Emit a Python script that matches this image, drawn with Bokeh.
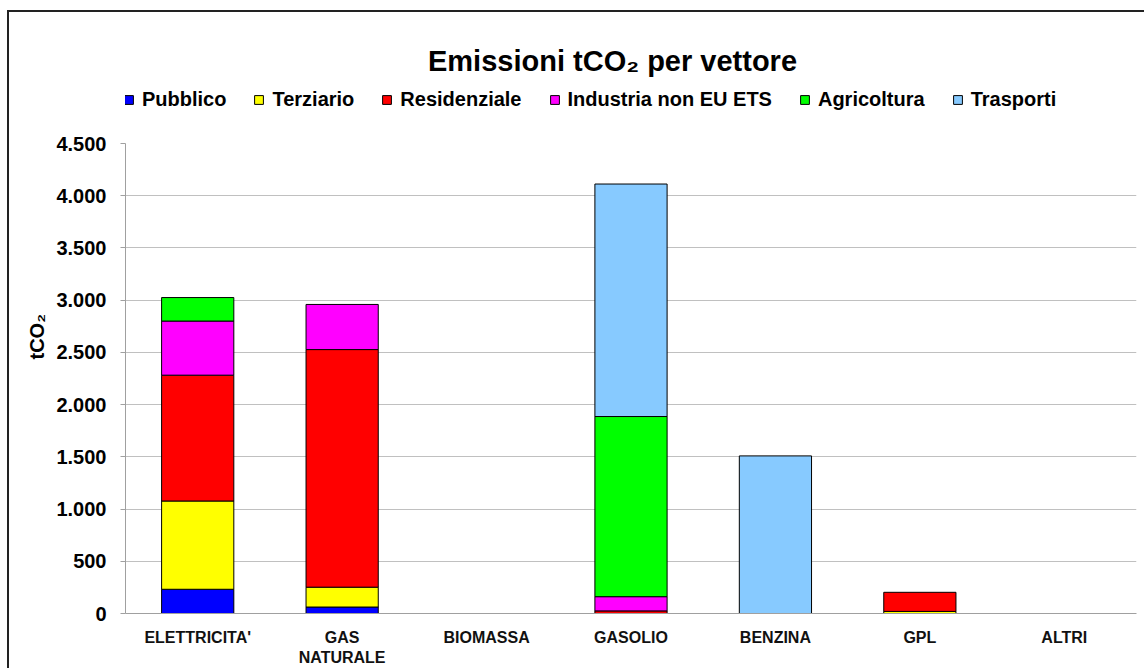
from bokeh.plotting import figure
from bokeh.layouts import column
from bokeh.models import FactorRange, Range1d, FixedTicker, Legend, LegendItem, Label, Title
from bokeh.embed import file_html
from bokeh.resources import INLINE

categories = ["ELETTRICITA'", "GAS\nNATURALE", "BIOMASSA", "GASOLIO", "BENZINA", "GPL", "ALTRI"]

series_names = ["Pubblico", "Terziario", "Residenziale", "Industria non EU ETS", "Agricoltura", "Trasporti"]
series_colors = ["#0000FF", "#FFFF00", "#FF0000", "#FF00FF", "#00FF00", "#87CAFF"]

pubblico = [232, 62, 0, 0, 0, 0, 0]
terziario = [845, 190, 0, 0, 0, 20, 0]
residenziale = [1205, 2275, 0, 25, 0, 183, 0]
industria = [518, 432, 0, 136, 0, 0, 0]
agricoltura = [225, 0, 0, 1725, 0, 0, 0]
trasporti = [0, 0, 0, 2226, 1509, 0, 0]

y_ticks = [0, 500, 1000, 1500, 2000, 2500, 3000, 3500, 4000, 4500]
y_tick_labels = ["0", "500", "1.000", "1.500", "2.000", "2.500", "3.000", "3.500", "4.000", "4.500"]

chart_title = "Emissioni tCO\u2082 per vettore"
y_title = "tCO\u2082"

FONT = "Liberation Sans"
W = 1135
HEADER_H = 119
NAN = float("nan")

# ---- header: title + legend ----
header = figure(width=W, height=HEADER_H, x_range=Range1d(0, 1), y_range=Range1d(0, 1),
                output_backend="svg", toolbar_location=None, title=None,
                min_border=0, min_border_left=0, min_border_right=0,
                min_border_top=0, min_border_bottom=0)
header.axis.visible = False
header.grid.visible = False
header.outline_line_color = None

items = []
for name, color in zip(series_names, series_colors):
    r = header.vbar(x=[0.5], bottom=[NAN], top=[NAN], width=0.5, fill_color=color,
                    line_color="black", line_width=1)
    items.append(LegendItem(label=name, renderers=[r]))

legend = Legend(items=items, orientation="horizontal", location=(-2, 20),
                label_text_font=FONT, label_text_font_size="20px",
                label_text_font_style="bold", label_text_color="black",
                glyph_width=11, glyph_height=11, label_standoff=8, spacing=27,
                padding=0, margin=0, border_line_color=None, background_fill_alpha=0)
header.add_layout(legend, "center")

header.add_layout(Label(x=487, y=71, x_units="screen", y_units="screen",
                        text=chart_title, text_align="center",
                        text_baseline="alphabetic", text_font=FONT,
                        text_font_size="29px", text_font_style="bold", text_color="black"))

# ---- main chart ----
p = figure(
    x_range=FactorRange(*categories),
    y_range=Range1d(0, 4500),
    width=W, height=537, title=None,
    output_backend="svg", toolbar_location=None,
    min_border_left=116, min_border_right=8, min_border_top=12, min_border_bottom=46,
)

all_series = [pubblico, terziario, residenziale, industria, agricoltura, trasporti]
bottoms = [0] * len(categories)
for name, color, vals in zip(series_names, series_colors, all_series):
    xs, bs, ts = [], [], []
    for i, v in enumerate(vals):
        if v > 0:
            xs.append(categories[i])
            bs.append(bottoms[i])
            ts.append(bottoms[i] + v)
        bottoms[i] += v
    p.vbar(x=xs, bottom=bs, top=ts, width=0.5, fill_color=color,
           line_color="black", line_width=1)

p.outline_line_color = None
p.xgrid.grid_line_color = None
p.ygrid.grid_line_color = "#C0C0C0"
p.ygrid.ticker = FixedTicker(ticks=y_ticks)

p.yaxis.ticker = FixedTicker(ticks=y_ticks)
p.yaxis.major_label_overrides = {t: l for t, l in zip(y_ticks, y_tick_labels)}
p.yaxis.minor_tick_line_color = None
p.yaxis.major_tick_in = 0
p.yaxis.major_tick_out = 5
p.yaxis.major_tick_line_color = "#A0A0A0"
p.yaxis.axis_line_color = "#A0A0A0"
p.yaxis.major_label_text_font = FONT
p.yaxis.major_label_text_font_size = "20px"
p.yaxis.major_label_text_font_style = "bold"
p.yaxis.major_label_text_color = "black"
p.yaxis.major_label_standoff = 14

p.add_layout(Title(text=y_title, align="left", offset=254, standoff=12,
                   text_font=FONT, text_font_size="20px", text_font_style="bold",
                   text_color="black"), "left")

p.xaxis.major_tick_line_color = None
p.xaxis.axis_line_color = "#A0A0A0"
p.xaxis.major_label_text_font = FONT
p.xaxis.major_label_text_font_size = "16px"
p.xaxis.major_label_text_font_style = "bold"
p.xaxis.major_label_text_color = "#111111"
p.xaxis.major_label_standoff = 9

layout = column(header, p, spacing=0,
                styles={"margin-left": "7px", "margin-top": "10px",
                        "border-left": "2px solid #222222", "border-top": "2px solid #222222"})

open("out.html", "w").write(file_html(layout, INLINE))
